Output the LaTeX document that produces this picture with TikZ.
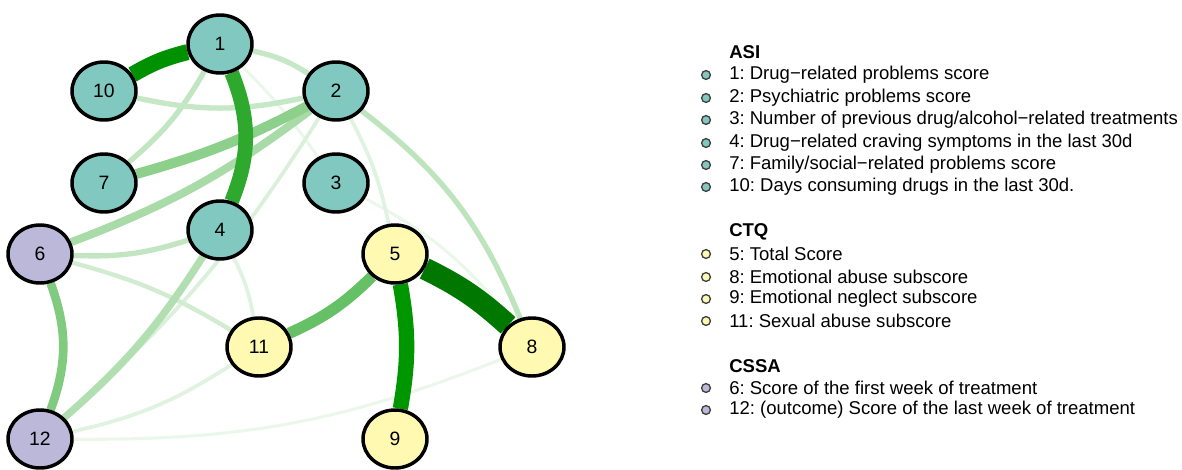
\documentclass[tikz,border=0pt]{standalone}
\usepackage{fontspec}
\setmainfont{Liberation Sans}
\usetikzlibrary{shapes.geometric,backgrounds}
\definecolor{asicol}{HTML}{80C8C0}
\definecolor{ctqcol}{HTML}{FFF9B2}
\definecolor{cssacol}{HTML}{BBB8DA}
\definecolor{posedge}{RGB}{0,150,0}
\definecolor{topedge}{RGB}{0,120,0}
\frenchspacing

\begin{document}
\begin{tikzpicture}[x=0.75pt,y=0.75pt,
    var/.style={ellipse,draw=black,line width=2.6pt,minimum width=48pt,minimum height=43.5pt,
      inner sep=0pt,font=\fontsize{14.5}{15}\selectfont},
    legtitle/.style={anchor=west,inner sep=0pt,font=\fontsize{13.9}{14}\selectfont\bfseries},
    legitem/.style={anchor=west,inner sep=0pt,font=\fontsize{13.9}{14}\selectfont},
    dot/.style={draw=black!75,line width=1pt}]
  \useasboundingbox (0,0) rectangle (1182,469);
  % variables
  \foreach \n/\x/\y/\c in {1/220/425/asicol,10/104/378/asicol,2/336/378/asicol,7/104/286/asicol,
      3/336/286/asicol,4/220/239/asicol,6/40/215/cssacol,5/395/215/ctqcol,11/259/122/ctqcol,
      8/532/122/ctqcol,12/40/30/cssacol,9/395/30/ctqcol} {
    \node[var,fill=\c] (v\n) at (\x,\y) {\n};
  }
  % edges, weakest first
  \begin{scope}[on background layer]
    \foreach \a/\b/\w/\c/\bd in {1/3/2.3/8/5,3/8/2.3/8/12,12/8/2.3/8/-11,
        12/11/2.8/12/-10,4/11/2.8/12/8,2/12/2.8/14/8,2/5/2.8/12/8,6/11/3.3/18/8,
        1/2/4/22/10,1/7/4/24/10,10/2/4/22/-12,6/4/4/24/-10,2/8/4/26/15,
        4/12/5.5/30/8,2/6/6/34/8,6/12/6.5/50/20,2/7/7.5/45/6,11/5/8.5/60/-10,
        1/4/11/82/22,5/9/11.5/100/10} {
      \draw[draw=posedge!\c,line width=\w pt] (v\a) to[bend left=\bd] (v\b);
    }
    \draw[draw=posedge!97!black,line width=12pt] (v10) to[bend left=8] (v1);
    \draw[draw=topedge,line width=16.5pt] (v5) to[bend left=8] (v8);
  \end{scope}
  % legend
  \node[legtitle] (asi) at (729,417) {ASI};
  \foreach \y/\txt [count=\i] in {394/{1: Drug−related problems score},
      371/{2: Psychiatric problems score},
      349/{3: Number of previous drug/alcohol−related treatments},
      326/{4: Drug−related craving symptoms in the last 30d},
      304/{7: Family/social−related problems score},
      282/{10: Days consuming drugs in the last 30d.}} {
    \filldraw[dot,fill=asicol] (706,\y) circle (3.3pt);
    \node[legitem] (asi\i) at (729,\y) {\txt};
  }
  \node[legtitle] (ctq) at (729,237) {CTQ};
  \foreach \y/\txt [count=\i] in {215/{5: Total Score},
      192/{8: Emotional abuse subscore},
      170/{9: Emotional neglect subscore},
      148/{11: Sexual abuse subscore}} {
    \filldraw[dot,fill=ctqcol] (706,\y) circle (3.3pt);
    \node[legitem] (ctq\i) at (729,\y) {\txt};
  }
  \node[legtitle] (cssa) at (729,103) {CSSA};
  \foreach \y/\txt [count=\i] in {81/{6: Score of the first week of treatment},
      59/{12: (outcome) Score of the last week of treatment}} {
    \filldraw[dot,fill=cssacol] (706,\y) circle (3.3pt);
    \node[legitem] (cssa\i) at (729,\y) {\txt};
  }
\end{tikzpicture}
\end{document}
